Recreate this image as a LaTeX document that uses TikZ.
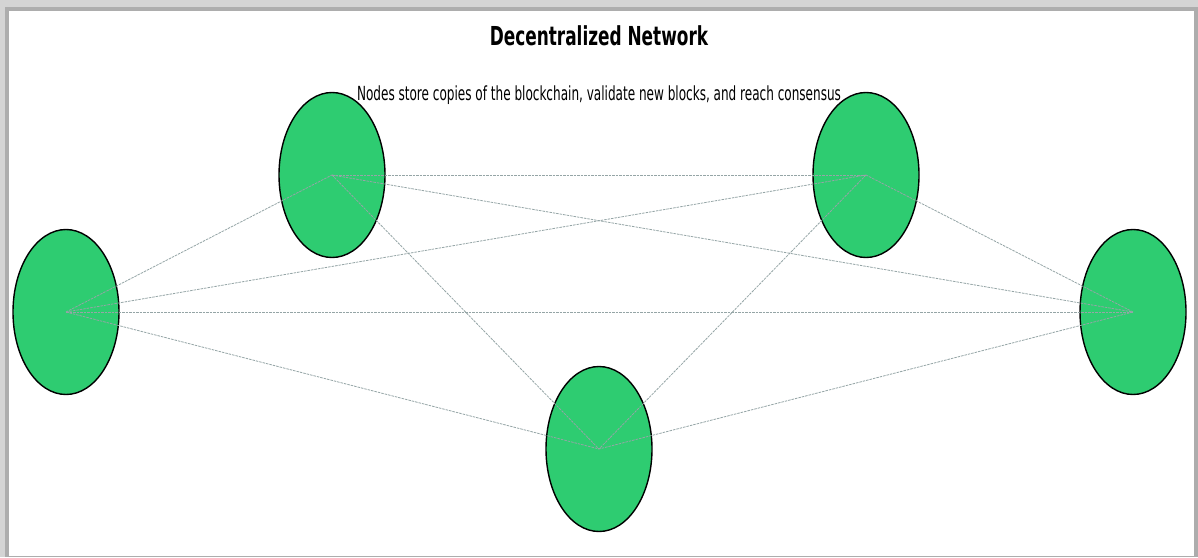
\documentclass[tikz,border=0pt]{standalone}
\usepackage{fontspec}
\setmainfont{DejaVu Sans Condensed}
\usetikzlibrary{shapes.geometric}
\definecolor{nodegreen}{HTML}{2ECC71}
\definecolor{edgegray}{HTML}{95A5A6}
\definecolor{frameouter}{HTML}{D4D4D4}
\definecolor{frameinner}{HTML}{ADADAD}
\tikzset{
  peer/.style={ellipse, draw=black, line width=1.4pt, fill=nodegreen,
    minimum width=106pt, minimum height=165pt, inner sep=0pt},
  link/.style={draw=edgegray, line width=0.8pt, dash pattern=on 2.5pt off 1pt},
  titletext/.style={font=\bfseries\fontsize{18.8}{22}\selectfont, inner sep=0pt, anchor=base},
  subtext/.style={font=\fontsize{13.4}{16}\selectfont, inner sep=0pt, anchor=base}
}
\begin{document}
\begin{tikzpicture}[x=1pt,y=-1pt]
\useasboundingbox (0,0) rectangle (1198,557);
% frame shadow
\fill[frameouter] (0,0) rectangle (1198,557);
\fill[frameinner] (5,7) rectangle (1198,557);
\fill[white] (9,11) rectangle (1194,556);
% nodes
\node[peer] (n1) at (66,312) {};
\node[peer] (n2) at (332,175) {};
\node[peer] (n3) at (866,175) {};
\node[peer] (n4) at (1133,312) {};
\node[peer] (n5) at (599,449) {};
% links
\foreach \a/\b in {n1/n2,n1/n3,n1/n4,n1/n5,n2/n3,n2/n4,n2/n5,n3/n4,n3/n5,n4/n5}
  \draw[link] (\a.center) -- (\b.center);
% texts
\node[titletext] (title) at (599,45.7) {\scalebox{1}[1.39]{Decentralized Network}};
\node[subtext] (sub) at (599,100) {\scalebox{1}[1.45]{Nodes store copies of the blockchain, validate new blocks, and reach consensus}};
\end{tikzpicture}
\end{document}
